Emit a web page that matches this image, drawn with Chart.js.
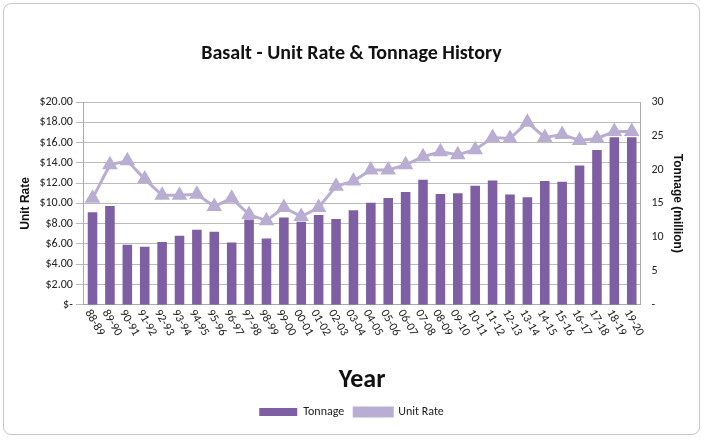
<!DOCTYPE html>
<html>
<head>
<meta charset="utf-8">
<script src="https://cdn.jsdelivr.net/npm/chart.js@4"></script>
<style>
body { margin:0; background:#fff; }
#wrap { position:absolute; left:3px; top:3px; width:697px; height:432px; border:1px solid #c8c8c8; border-radius:8px; box-sizing:border-box; }
canvas { position:absolute; left:0; top:0; }
</style>
</head>
<body>
<div id="wrap"><canvas id="myChart" width="695" height="430"></canvas></div>
<script>
const years = ['88-89','89-90','90-91','91-92','92-93','93-94','94-95','95-96','96-97','97-98','98-99','99-00','00-01','01-02','02-03','03-04','04-05','05-06','06-07','07-08','08-09','09-10','10-11','11-12','12-13','13-14','14-15','15-16','16-17','17-18','18-19','19-20'];
const tonnage = [13.7,14.6,8.9,8.6,9.3,10.2,11.1,10.8,9.2,12.6,9.8,12.9,12.3,13.3,12.7,14.0,15.1,15.8,16.7,18.5,16.4,16.5,17.6,18.4,16.3,15.9,18.3,18.2,20.6,22.9,24.8,24.8];
const unitRate = [10.5,13.8,14.2,12.4,10.8,10.8,10.9,9.7,10.5,8.9,8.3,9.6,8.7,9.6,11.7,12.2,13.3,13.3,13.8,14.6,15.1,14.8,15.3,16.5,16.4,18.0,16.5,16.8,16.2,16.4,17.1,17.1];

// x labels rotated clockwise, drawn on the scale's tick positions
const slantLabels = {
    id: 'slantLabels',
    afterDraw(chart) {
        const ctx = chart.ctx;
        const x = chart.scales.x;
        const top = chart.chartArea.bottom;
        ctx.save();
        ctx.font = '12px Calibri, "Open Sans", sans-serif';
        ctx.fillStyle = '#222';
        ctx.textAlign = 'left';
        ctx.textBaseline = 'middle';
        years.forEach((y, i) => {
            ctx.save();
            ctx.translate(x.getPixelForTick(i) - 5, top + 6);
            ctx.rotate(Math.PI / 3);
            ctx.fillText(y, 0, 0);
            ctx.restore();
        });
        ctx.restore();
    }
};

const ctx = document.getElementById('myChart').getContext('2d');
new Chart(ctx, {
    data: {
        labels: years,
        datasets: [{
            type: 'line',
            label: 'Unit Rate',
            data: unitRate,
            yAxisID: 'y',
            borderColor: '#b9add3',
            backgroundColor: '#b9add3',
            borderWidth: 3,
            pointStyle: 'triangle',
            pointRadius: 6,
            tension: 0,
            order: 0
        }, {
            type: 'bar',
            label: 'Tonnage',
            data: tonnage,
            yAxisID: 'y1',
            backgroundColor: '#7e5fa3',
            categoryPercentage: 1,
            barPercentage: 0.55,
            order: 1
        }]
    },
    options: {
        responsive: false,
        animation: false,
        layout: { padding: { left: 10, right: 10, top: 10, bottom: 6 } },
        plugins: {
            title: {
                display: true,
                text: 'Basalt - Unit Rate & Tonnage History',
                font: { size: 20, weight: 'bold', family: 'Calibri, "Open Sans", sans-serif' },
                color: '#111',
                padding: { top: 28, bottom: 36 }
            },
            legend: {
                position: 'bottom',
                reverse: true,
                labels: {
                    font: { size: 12, family: 'Calibri, "Open Sans", sans-serif' },
                    color: '#222',
                    boxWidth: 38, boxHeight: 8
                }
            }
        },
        scales: {
            x: {
                grid: { display: false },
                border: { color: '#aaa' },
                ticks: { display: false },
                title: {
                    display: true,
                    text: 'Year',
                    font: { size: 26, weight: 'bold', family: 'Calibri, "Open Sans", sans-serif' },
                    color: '#111',
                    padding: { top: 52, bottom: 0 }
                }
            },
            y: {
                position: 'left',
                min: 0, max: 20,
                ticks: {
                    stepSize: 2,
                    color: '#222',
                    font: { size: 12, family: 'Calibri, "Open Sans", sans-serif' },
                    callback: v => v === 0 ? '$-' : '$' + v.toFixed(2)
                },
                grid: { color: '#bbb' },
                border: { color: '#aaa' },
                title: { display: true, text: 'Unit Rate', font: { size: 12, weight: 'bold' }, color: '#111' }
            },
            y1: {
                position: 'right',
                min: 0, max: 30,
                ticks: {
                    stepSize: 5,
                    color: '#222',
                    font: { size: 12, family: 'Calibri, "Open Sans", sans-serif' },
                    callback: v => v === 0 ? '-' : v
                },
                grid: { display: false },
                border: { color: '#aaa' },
                title: { display: true, text: 'Tonnage (million)', font: { size: 12, weight: 'bold' }, color: '#111' }
            }
        }
    },
    plugins: [slantLabels]
});
</script>
</body>
</html>
